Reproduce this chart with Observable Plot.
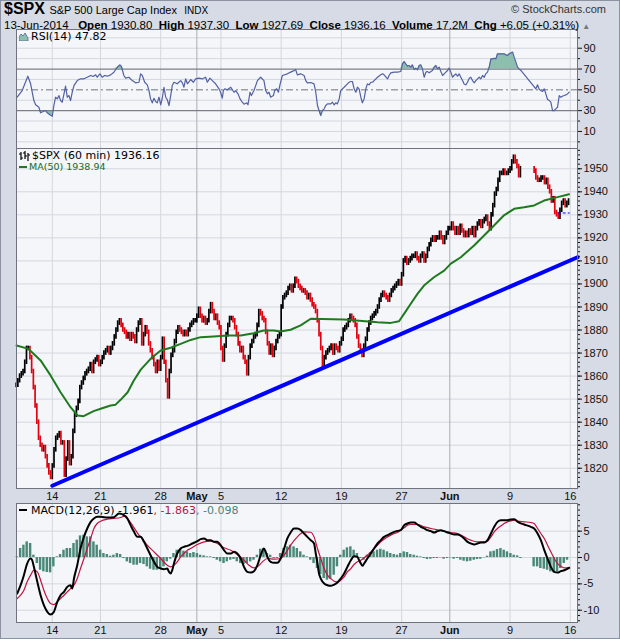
<!DOCTYPE html>
<html><head><meta charset="utf-8">
<script src="https://cdn.jsdelivr.net/npm/d3@7"></script>
<script src="https://cdn.jsdelivr.net/npm/@observablehq/plot@0.6"></script>
<style>
html,body{margin:0;padding:0;background:#fff;}
#wrap{position:relative;width:620px;height:639px;background:#d6dbe5;box-shadow:inset 0 0 0 1px #8b92a2;overflow:hidden;font-family:"Liberation Sans",Arial,sans-serif;color:#000;}
.abs{position:absolute;white-space:nowrap;}
.lg{font-family:"DejaVu Sans",Verdana,sans-serif;font-size:11px;line-height:11px;}
#rsi,#price,#macd{position:absolute;left:0;}
</style></head><body>
<div id="wrap">
  <div id="rsi" style="top:29px"></div>
  <div id="price" style="top:148px"></div>
  <div id="macd" style="top:503px"></div>

  <div class="abs" style="left:4px;top:0px;line-height:17px;height:17px;">
    <span style="font-weight:bold;font-size:16px;">$SPX</span>
    <span style="font-size:11px;">S&amp;P 500 Large Cap Index</span>
    <span style="font-size:10px;">&nbsp;INDX</span>
  </div>
  <div class="abs" style="right:14px;top:3px;font-size:11px;line-height:12px;color:#333;">© StockCharts.com</div>
  <div class="abs" style="left:4px;top:18.5px;font-size:11.5px;line-height:12px;">
    13-Jun-2014&nbsp;&nbsp; <b>Open</b> 1930.80&nbsp; <b>High</b> 1937.30&nbsp; <b>Low</b> 1927.69&nbsp; <b>Close</b> 1936.16&nbsp; <b>Volume</b> 17.2M&nbsp; <b>Chg</b> +6.05 (+0.31%) <span style="color:#777;font-size:8px;">▲</span>
  </div>

  <svg class="abs" style="left:19px;top:32px" width="10" height="9"><path d="M0,9 L0,5 L2,2 L4,4 L6,1 L9,6 L9,9 Z" fill="#8dbfae" stroke="#5663a0" stroke-width="0.8"/></svg>
  <div class="abs lg" style="left:31px;top:31px;">RSI(14) 47.82</div>

  <svg class="abs" style="left:19px;top:151px" width="11" height="10"><path d="M2,1V9M0,3H2M2,7H4M6,0V8M4,2H6M6,5H8M9,2V10M9,4H11" stroke="#000" stroke-width="1.2" fill="none"/></svg>
  <div class="abs" style="left:19px;top:166px;width:8px;height:2px;background:#1f7a1f;"></div>
  <div class="abs lg" style="left:32px;top:149.5px;line-height:11.5px;">$SPX (60 min) 1936.16<br><span style="font-size:9.5px;color:#1a6b1a;margin-left:-3px;">MA(50) 1938.94</span></div>

  <div class="abs" style="left:19px;top:509px;width:8px;height:2px;background:#000;"></div>
  <div class="abs lg" style="left:31px;top:505px;">MACD(12,26,9) -1.961<span style="color:#b5173f">, -1.863</span><span style="color:#3d8a78">, -0.098</span></div>
</div>
<script>
// ---------- x axis: trading days (7 hourly bars per day), Apr 9 – Jun 13, 2014 ----------
const barsPerDay = 7;
const tickDay  = [3, 7, 12, 15, 17, 22, 27, 32, 36, 41, 46];
const tickText = ["14","21","28","May","5","12","19","27","Jun","9","16"];
const monthText = ["May","Jun"];

// hourly closes per trading day (Jun 10 missing in source)
const hourlyClose = [
 [1856,1858,1860,1861,1862,1866,1872], // Apr 9
 [1872,1868,1862,1855,1847,1840,1833], // Apr 10
 [1830,1828,1829,1825,1821,1818,1816], // Apr 11
 [1821,1828,1833,1834,1835,1831,1831], // Apr 14
 [1817,1824,1831,1822,1825,1836,1843], // Apr 15
 [1846,1849,1855,1857,1859,1861,1862], // Apr 16
 [1863,1865,1862,1866,1867,1868,1865], // Apr 17
 [1866,1868,1870,1871,1872,1870,1872], // Apr 21
 [1874,1877,1880,1883,1884,1882,1880], // Apr 22
 [1879,1877,1878,1876,1878,1877,1875], // Apr 23
 [1880,1883,1884,1874,1878,1881,1879], // Apr 24
 [1874,1871,1868,1865,1862,1866,1863], // Apr 25
 [1868,1876,1866,1858,1851,1862,1869], // Apr 28
 [1871,1875,1879,1881,1880,1879,1878], // Apr 29
 [1879,1878,1880,1882,1883,1884,1884], // Apr 30
 [1886,1889,1886,1884,1885,1883,1884], // May 1
 [1888,1891,1888,1885,1886,1883,1881], // May 2
 [1872,1867,1873,1878,1882,1885,1885], // May 5
 [1884,1881,1878,1874,1871,1872,1868], // May 6
 [1866,1861,1868,1873,1875,1877,1878], // May 7
 [1882,1888,1887,1885,1884,1879,1874], // May 8
 [1870,1873,1869,1872,1875,1877,1878], // May 9
 [1890,1894,1895,1896,1898,1899,1897], // May 12
 [1899,1902,1901,1899,1898,1897,1897], // May 13
 [1896,1894,1895,1893,1891,1890,1888], // May 14
 [1884,1878,1872,1864,1868,1870,1871], // May 15
 [1872,1873,1870,1873,1872,1871,1874], // May 16
 [1876,1880,1881,1882,1884,1886,1885], // May 19
 [1884,1882,1877,1873,1871,1869,1873], // May 20
 [1876,1880,1883,1885,1886,1887,1888], // May 21
 [1890,1893,1895,1896,1895,1894,1893], // May 22
 [1895,1897,1898,1899,1900,1901,1900], // May 23
 [1904,1910,1911,1909,1910,1911,1912], // May 27
 [1912,1913,1911,1910,1912,1913,1910], // May 28
 [1912,1915,1917,1919,1920,1919,1920], // May 29
 [1920,1922,1920,1918,1920,1922,1924], // May 30
 [1924,1926,1924,1922,1924,1922,1925], // Jun 2
 [1923,1921,1922,1921,1923,1922,1924], // Jun 3
 [1921,1924,1926,1927,1925,1927,1928], // Jun 4
 [1929,1926,1924,1930,1934,1939,1941], // Jun 5
 [1945,1948,1948,1949,1948,1948,1949], // Jun 6
 [1950,1953,1955,1953,1951,1947,1950], // Jun 9
 null,                                 // Jun 10 (no data)
 [1949,1946,1945,1945,1946,1946,1944], // Jun 11
 [1945,1942,1940,1936,1937,1931,1930], // Jun 12
 [1929,1932,1935,1936,1934,1935,1936]  // Jun 13
];

// MA(50) readings [bar, value]
const ma50 = [[0.2,1873.3],[7.2,1871.8],[14.2,1866.8],[20.0,1860.3],[25.8,1853.0],[31.6,1846.5],[35.7,1842.9],[39.2,1842.6],[45.0,1844.8],[49.1,1845.8],[54.9,1847.2],[57.8,1847.6],[60.7,1849.7],[64.8,1853.0],[68.3,1858.0],[72.3,1862.7],[78.1,1867.5],[84.0,1871.1],[89.8,1872.3],[95.6,1874.0],[101.4,1875.7],[107.2,1876.9],[114.8,1877.2],[122.9,1877.6],[130.5,1877.6],[138.0,1878.6],[143.8,1879.8],[149.7,1879.8],[153.7,1879.4],[159.5,1880.1],[165.3,1882.0],[171.2,1884.9],[190.5,1884.6],[209.9,1883.4],[217.7,1883.1],[222.5,1883.8],[225.4,1887.0],[229.3,1891.4],[233.2,1895.7],[237.0,1899.3],[242.8,1902.9],[248.7,1905.8],[252.6,1908.8],[258.4,1911.6],[266.1,1916.7],[271.9,1921.0],[277.7,1925.4],[283.5,1929.8],[289.4,1932.6],[295.2,1933.3],[301.0,1934.1],[306.8,1936.2],[314.6,1937.7],[321.3,1938.94]];

// trendline [bar, price]
const trend = [[21,1812.4],[326.2,1911.6]];
// today's open marker
const openLevel = 1930.8, openFromBar = 315, openToBar = 322;

// RSI(14) readings [bar, value]
const rsi = [[0.6,42.9],[3.5,49.3],[6.8,63.1],[8.4,55.8],[10.3,39.7],[11.3,35.6],[13.2,33.3],[14.2,27.9],[15.7,29.1],[17.1,30.1],[18.1,27.9],[19.6,26.0],[21.0,24.6],[21.9,34.9],[22.9,42.9],[23.9,41.3],[24.9,44.5],[25.8,39.7],[26.8,38.1],[27.8,46.2],[28.7,53.5],[29.7,42.9],[30.7,44.5],[31.6,39.7],[32.6,47.7],[33.6,54.1],[35.5,58.9],[37.4,60.6],[39.4,60.6],[41.3,62.1],[43.3,63.8],[44.8,62.8],[46.2,64.4],[47.1,62.1],[48.7,65.4],[50.0,62.1],[51.4,63.8],[53.0,63.1],[54.9,64.4],[56.8,66.9],[58.8,71.7],[60.3,74.0],[61.1,72.7],[62.6,63.8],[63.6,61.2],[65.5,62.1],[67.5,58.9],[69.4,56.7],[71.4,57.3],[72.3,65.4],[73.3,63.8],[74.7,57.3],
[76.2,54.8],[77.2,49.3],[78.1,41.3],[79.1,37.5],[80.1,41.9],[81.1,38.8],[82.0,37.5],[83.0,42.9],[84.0,35.6],[84.9,41.9],[85.9,52.5],[86.9,42.9],[87.8,40.7],[88.8,34.9],[89.8,44.5],[90.7,54.1],[91.7,57.3],[93.6,55.8],[95.6,58.9],[96.6,56.7],[97.5,52.5],[98.5,60.6],[99.5,55.8],[101.4,59.9],[103.0,57.3],[104.3,60.6],[106.2,61.2],[108.2,60.6],[110.1,62.1],[111.1,57.3],[112.6,61.2],[114.0,58.9],[115.9,55.8],[117.9,51.0],[118.8,47.7],[119.8,41.9],[120.4,49.3],[121.2,51.0],[122.7,50.0],[124.7,52.5],[126.6,47.7],[127.6,49.3],[128.9,46.2],[130.1,41.3],[131.4,38.1],[132.4,36.2],[134.0,37.5],[134.7,35.6],[135.9,47.7],[136.7,44.5],[138.2,49.3],[140.2,58.9],[141.1,60.6],[142.1,62.1],[144.0,58.9],[145.0,49.3],[146.0,46.2],[146.9,47.7],[147.9,42.9],[149.5,44.5],[150.2,49.3],[151.4,51.0],[152.4,47.7],[153.3,54.8],[154.7,63.8],[157.6,65.4],[159.5,67.0],[161.5,68.5],[162.4,69.5],[163.4,64.4],[165.4,65.4],[167.3,63.8],[168.3,58.9],[169.2,56.7],[171.2,57.0],
[173.1,55.7],[174.1,47.7],[175.1,34.9],[176.0,30.1],[177.0,25.3],[178.0,30.1],[179.0,31.7],[179.9,34.9],[180.9,36.5],[182.8,36.5],[183.8,38.1],[184.8,35.5],[185.7,37.5],[186.7,36.5],[187.7,41.3],[188.6,49.3],[189.6,50.9],[190.6,52.5],[192.5,55.7],[193.5,57.3],[194.5,58.0],[195.4,58.0],[196.4,50.9],[197.4,47.7],[198.3,52.5],[199.3,50.9],[200.3,42.9],[201.2,37.5],[202.2,41.3],[203.2,50.9],[204.1,55.7],[205.1,54.8],[206.1,57.3],[207.1,57.3],[208.0,58.9],[210.0,62.1],[211.9,64.4],[212.9,65.4],[213.8,64.4],[215.8,60.5],[216.7,63.8],[217.7,66.3],[219.7,67.0],[221.6,67.0],[223.5,67.6],[224.5,75.0],[225.5,77.2],[226.4,75.0],[227.4,72.7],[228.4,73.4],[229.3,71.8],[230.3,74.0],[231.3,69.5],[232.2,70.8],[233.2,69.2],[234.2,73.4],[235.2,74.0],[236.1,70.2],[237.1,62.1],[238.1,67.0],[239.0,67.6],[240.0,66.3],[241.0,67.6],[241.9,68.6],[242.9,71.8],[243.9,73.4],[244.8,70.2],[245.8,71.8],[246.8,67.6],[247.8,63.8],[248.7,65.4],[249.7,67.0],[250.7,68.6],[251.6,70.8],[252.6,67.0],[253.6,62.1],[254.5,63.8],[255.5,65.4],[256.5,63.1],[257.4,65.4],[258.4,62.1],[259.4,58.9],[260.3,55.7],[261.3,54.8],[262.3,57.3],[263.3,61.2],[264.2,62.1],[265.2,58.9],[266.2,56.7],[267.1,58.9],[268.1,60.5],[269.1,62.1],[270.0,60.5],[271.0,63.8],[272.0,62.1],[272.9,65.4],[273.9,67.0],[274.9,71.8],[275.9,79.8],[276.8,79.8],[277.8,80.4],[278.8,79.8],[279.7,84.6],[281.7,84.6],[283.6,84.6],[284.6,83.6],[285.5,83.0],[286.5,84.6],[287.5,85.5],[288.5,86.2],[289.4,81.4],[290.4,76.6],[291.4,71.8],[292.3,70.2],[293.3,68.6],[302.0,51.0],[303.0,54.8],[304.0,50.3],[304.9,49.3],[305.9,48.4],[306.9,50.9],[307.8,46.1],[308.8,40.7],[309.8,39.7],[310.7,38.1],[311.7,30.1],[312.7,30.1],[313.6,31.7],[314.6,33.3],[315.6,44.5],[316.5,42.9],[317.5,43.9],[318.5,44.5],[319.5,45.2],[320.4,46.1],[321.4,47.82]];

// MACD(12,26,9) readings [bar, value]
const macd = [[0.6,-6.84],[2.6,-5.25],[4.5,-3.35],[6.4,-1.14],[8.4,-0.19],[9.3,-0.51],[10.3,-1.77],[12.3,-4.62],[14.2,-7.15],[16.1,-9.05],[18.1,-10.32],[20.0,-10.82],[21.9,-10.32],[23.9,-8.42],[25.8,-7.15],[27.8,-6.52],[29.7,-5.57],[31.6,-5.25],[32.6,-5.89],[33.6,-3.99],[35.5,-1.46],[37.4,1.71],[39.4,3.92],[41.3,5.51],[43.3,6.77],[45.2,7.41],[47.1,7.72],[49.1,7.72],[53.0,7.59],[56.8,7.66],[59.7,8.35],[62.6,8.04],[64.6,7.41],[66.5,6.14],[68.5,4.87],[70.4,3.92],[72.3,3.92],[74.3,2.97],[76.2,1.71],[78.1,0.44],[80.1,-0.82],[82.0,-1.77],[84.0,-2.09],[85.9,-2.22],[87.8,-2.09],[88.8,-2.72],[89.8,-3.04],[90.7,-2.41],[91.7,-1.14],[93.6,0.76],[95.6,1.71],[97.5,2.03],[99.5,2.22],[102.4,2.66],[105.3,3.1],[107.2,3.48],[109.2,3.61],[111.1,3.29],[113.0,3.29],[115.0,2.97],[116.9,2.97],[118.8,2.34],[120.8,1.39],[122.7,0.76],[124.7,0.76],[126.6,1.08],[128.5,0.76],[130.5,-0.19],[132.4,-1.77],[134.3,-2.72],[136.3,-2.85],[138.2,-2.59],[140.2,-1.46],[142.1,0.44],[144.0,1.71],[145.0,1.08],[146.0,0.13],[147.9,-0.82],[149.9,-1.01],[151.8,-1.01],[153.7,-0.19],[155.7,1.71],[157.6,3.61],[159.5,4.75],[161.5,5.51],[163.4,5.51],[165.4,5.19],[167.3,4.56],[169.2,3.92],[171.2,3.29],[173.1,2.66],[174.1,0.76],[175.1,-1.14],[176.0,-3.04],[177.0,-3.99],[179.0,-4.94],[180.9,-5.25],[182.8,-5.38],[184.8,-5.13],[186.7,-4.75],[188.6,-3.99],[190.6,-3.04],[192.5,-1.77],[194.5,-0.51],[196.4,0.25],[198.3,0.13],[199.3,-0.51],[200.3,-1.14],[201.2,-1.58],[202.2,-1.14],[204.1,-0.19],[206.1,0.76],[208.0,1.71],[210.0,2.66],[211.9,3.29],[213.8,3.92],[215.8,4.24],[217.7,4.56],[219.7,4.87],[221.6,5.06],[223.5,5.19],[225.5,6.14],[227.4,6.46],[229.3,6.65],[231.3,6.65],[233.2,6.27],[235.2,5.82],[237.1,5.51],[239.0,5.19],[241.0,5.0],[242.9,4.75],[244.8,5.0],[246.8,5.19],[248.7,5.0],[250.7,4.75],[252.6,4.56],[254.5,4.37],[256.5,4.37],[258.4,4.11],[260.3,3.61],[262.3,2.97],[264.2,2.66],[266.2,2.47],[268.1,2.66],[270.0,2.85],[272.0,2.85],[273.9,3.29],[275.9,4.56],[277.8,5.82],[279.7,6.77],[281.7,7.09],[283.6,7.09],[285.5,7.09],[287.5,7.22],[289.4,7.28],[290.4,7.09],[291.4,6.77],[295.2,6.27],[299.1,5.82],[301.0,5.51],[303.0,4.56],[304.9,3.29],[306.9,1.39],[308.8,-0.19],[310.7,-1.77],[312.7,-2.72],[314.6,-2.85],[316.5,-2.59],[318.5,-2.41],[321.4,-1.961]];

const signal = [[0.6,-7.78],[2.6,-7.15],[4.5,-6.2],[6.4,-4.62],[8.4,-3.35],[10.3,-2.41],[12.3,-2.72],[14.2,-4.3],[16.1,-6.2],[18.1,-7.78],[20.0,-8.73],[21.9,-8.92],[23.9,-8.42],[25.8,-7.78],[27.8,-7.15],[29.7,-6.52],[31.6,-5.89],[33.6,-5.25],[35.5,-3.99],[37.4,-2.09],[39.4,-0.19],[41.3,1.71],[43.3,3.61],[45.2,5.51],[47.1,6.46],[49.1,6.9],[53.0,7.28],[56.8,7.41],[60.7,7.59],[63.6,7.91],[65.5,7.09],[67.5,6.14],[69.4,5.19],[71.4,4.24],[73.3,3.61],[76.2,2.34],[80.1,1.08],[84.0,-0.19],[87.8,-1.46],[89.8,-1.77],[91.7,-1.46],[93.6,-0.82],[95.6,0.13],[97.5,0.76],[99.5,1.39],[101.4,1.71],[105.3,2.47],[109.2,2.97],[113.0,3.1],[116.9,2.66],[120.8,1.84],[124.7,1.39],[128.5,0.57],[132.4,-0.51],[135.3,-1.46],[138.2,-1.96],[140.2,-1.77],[143.1,-0.82],[146.0,-0.19],[149.9,-0.32],[153.7,-0.19],[155.7,0.44],[159.5,2.34],[163.4,3.92],[167.3,4.87],[171.2,4.8],[173.1,3.92],[175.1,1.71],[177.0,-0.19],[179.0,-2.09],[180.9,-3.35],[182.8,-3.99],[184.8,-4.49],[186.7,-4.62],[188.6,-4.3],[190.6,-3.67],[192.5,-2.72],[194.5,-2.09],[196.4,-1.33],[198.3,-0.82],[200.3,-0.51],[202.2,-0.06],[204.1,0.44],[206.1,1.08],[208.0,1.71],[210.0,2.34],[211.9,2.97],[213.8,3.48],[215.8,3.92],[217.7,4.24],[219.7,4.56],[221.6,4.75],[223.5,5.19],[225.5,5.63],[227.4,6.14],[229.3,6.27],[233.2,6.27],[237.1,5.82],[241.0,5.51],[244.8,5.25],[248.7,5.0],[252.6,4.75],[256.5,4.56],[260.3,3.92],[264.2,3.29],[268.1,2.97],[272.0,2.97],[273.9,3.1],[275.9,3.92],[277.8,4.87],[279.7,5.51],[281.7,6.01],[283.6,6.46],[285.5,6.77],[287.5,6.96],[289.4,7.09],[291.4,6.9],[295.2,6.77],[299.1,6.65],[301.0,6.46],[303.0,5.51],[304.9,4.56],[306.9,3.61],[308.8,2.34],[310.7,1.08],[312.7,-0.19],[314.6,-1.14],[316.5,-1.65],[318.5,-1.96],[321.4,-1.863]];

const hist = [[0.6,0.13],[2.6,1.71],[4.5,2.34],[6.4,2.97],[8.4,2.66],[10.3,0.44],[12.3,-1.14],[14.2,-2.41],[16.1,-2.72],[18.1,-2.85],[20.0,-2.91],[21.9,-1.77],[23.9,0.13],[25.8,0.57],[27.8,1.39],[29.7,1.71],[31.6,1.71],[33.6,2.66],[35.5,3.29],[37.4,4.11],[39.4,4.24],[41.3,3.92],[43.3,3.92],[45.2,2.97],[47.1,2.34],[49.1,1.39],[51.0,0.76],[53.0,0.57],[54.9,0.25],[56.8,0.44],[58.8,0.76],[60.7,0.57],[62.6,-0.19],[64.6,-0.82],[66.5,-1.14],[68.5,-1.46],[70.4,-1.46],[72.3,-1.14],[74.3,-1.33],[76.2,-1.77],[78.1,-2.22],[80.1,-2.41],[82.0,-2.41],[84.0,-2.09],[85.9,-1.77],[87.8,-0.82],[89.8,-0.32],[91.7,0.76],[93.6,1.39],[95.6,1.58],[97.5,1.2],[99.5,1.08],[101.4,0.76],[103.3,0.95],[105.3,0.76],[107.2,0.44],[109.2,0.32],[111.1,0.13],[113.0,0.13],[115.0,-0.19],[116.9,-0.51],[118.8,-0.82],[120.8,-1.14],[122.7,-0.82],[124.7,-0.51],[126.6,-0.38],[128.5,-0.82],[130.5,-1.14],[132.4,-1.33],[134.3,-1.14],[136.3,-0.82],[138.2,-0.51],[140.2,0.44],[142.1,1.58],[144.0,1.71],[146.0,0.76],[147.9,0.44],[149.9,-0.19],[151.8,-0.19],[153.7,0.76],[155.7,1.71],[157.6,2.03],[159.5,2.34],[161.5,2.03],[163.4,1.71],[165.4,1.08],[167.3,0.44],[169.2,0.13],[171.2,-0.51],[173.1,-1.14],[175.1,-2.09],[177.0,-3.23],[179.0,-3.99],[180.9,-4.3],[182.8,-4.11],[184.8,-3.35],[186.7,-1.77],[188.6,0.44],[190.6,1.39],[192.5,1.84],[194.5,2.03],[196.4,1.39],[198.3,0.76],[200.3,-0.19],[202.2,-0.51],[204.1,0.44],[206.1,0.95],[208.0,1.08],[210.0,1.39],[211.9,1.58],[213.8,1.39],[215.8,1.08],[217.7,0.76],[219.7,0.57],[221.6,0.44],[223.5,0.76],[225.5,1.08],[227.4,0.95],[229.3,0.57],[231.3,0.44],[233.2,0.25],[235.2,0.13],[237.1,-0.19],[239.0,-0.38],[241.0,-0.32],[242.9,-0.19],[244.8,-0.19],[246.8,-0.06],[248.7,-0.32],[250.7,-0.19],[252.6,-0.06],[254.5,-0.32],[256.5,-0.19],[258.4,-0.51],[260.3,-0.7],[262.3,-0.82],[264.2,-0.7],[266.2,-0.51],[268.1,-0.38],[270.0,-0.32],[272.0,-0.06],[273.9,0.25],[275.9,1.08],[277.8,1.2],[279.7,1.52],[281.7,1.71],[283.6,1.39],[285.5,1.08],[287.5,0.76],[289.4,0.44],[291.4,0.32],[293.3,-0.19],[301.0,-1.77],[303.0,-1.77],[304.9,-2.09],[306.9,-2.22],[308.8,-2.41],[310.7,-2.72],[312.7,-2.91],[314.6,-2.72],[316.5,-2.09],[318.5,-1.14],[320.4,-0.51]];

// axis levels
const priceLevels = [1820,1830,1840,1850,1860,1870,1880,1890,1900,1910,1920,1930,1940,1950];
const rsiLabels = [10,30,50,70,90];
const rsiGrid = [0,10,20,40,60,80,90,100];
const macdLevels = [5,0,-5,-10];

// ---------- styling ----------
const W = 620, mL = 16, mR = 43;
const xDomain = [0.2, 326.2];
const panelFill = "#f4f6fa", gridColor = "#d3d7de", monthGrid = "#a8adb6", border = "#6e737d";
const axisStyle = {background:"transparent", fontFamily:"'Liberation Sans', Arial, sans-serif", fontSize:"10.5px", color:"#111", overflow:"visible"};

const tickH = tickDay.map(d => d * barsPerDay);
const labelAt = new Map(tickH.map((h, i) => [h, tickText[i]]));
const monthTicks = tickH.filter(h => monthText.includes(labelAt.get(h)));
const plainTicks = tickH.filter(h => !monthText.includes(labelAt.get(h)));
const vgrid = () => [
  Plot.ruleX(plainTicks, {stroke: gridColor}),
  Plot.ruleX(monthTicks, {stroke: monthGrid})
];
const dateAxes = () => [
  Plot.axisX({anchor:"bottom", ticks: plainTicks, tickFormat: h => labelAt.get(h), tickSize:0, tickPadding:4, fontSize:11}),
  Plot.axisX({anchor:"bottom", ticks: monthTicks, tickFormat: h => labelAt.get(h), tickSize:0, tickPadding:4, fontSize:11, fontWeight:"bold"})
];

// price bars: each bar spans previous close -> close (hourly range)
const bars = [];
let prev = null;
hourlyClose.forEach((day, d) => {
  if (!day) return;
  day.forEach((c, j) => {
    const p = prev == null ? c : prev;
    bars.push({h: d * barsPerDay + j, lo: Math.min(p, c) - 1.0, hi: Math.max(p, c) + 1.0, up: c >= p});
    prev = c;
  });
});

// ---------- RSI panel ----------
const rsiPlot = Plot.plot({
  width: W, height: 119, marginLeft: mL, marginRight: mR, marginTop: 0, marginBottom: 0,
  x: {domain: xDomain, label: null},
  y: {domain: [-6.4, 108], label: null},
  style: axisStyle,
  marks: [
    Plot.frame({fill: panelFill, stroke: "none"}),
    Plot.ruleY(rsiGrid, {stroke: gridColor}),
    ...vgrid(),
    Plot.area(rsi, {x1: d => d[0], y1: () => 70, y2: d => Math.max(70, d[1]), fill: "#8dbfae"}),
    Plot.area(rsi, {x1: d => d[0], y1: () => 30, y2: d => Math.min(30, d[1]), fill: "#8dbfae"}),
    Plot.ruleY([70, 30], {stroke: "#7b7f88", strokeWidth: 1.2}),
    Plot.ruleY([50], {stroke: "#6f737c", strokeDasharray: "7,3,2,3"}),
    Plot.line(rsi, {x: d => d[0], y: d => d[1], stroke: "#5361a2", strokeWidth: 1.2}),
    Plot.frame({stroke: border}),
    Plot.axisY({anchor: "right", ticks: rsiLabels, tickSize: 4, tickPadding: 2, tickFormat: d => String(d), fontSize: 11}),
    Plot.axisY({anchor: "right", ticks: [0,20,40,60,80,100], tickSize: 2, tickFormat: () => ""})
  ]
});

// ---------- price panel ----------
const pricePlot = Plot.plot({
  width: W, height: 356, marginLeft: mL, marginRight: mR, marginTop: 0, marginBottom: 16,
  x: {domain: xDomain, label: null},
  y: {domain: [1811.2, 1958.8], label: null},
  style: axisStyle,
  marks: [
    Plot.frame({fill: panelFill, stroke: "none"}),
    Plot.ruleY(priceLevels, {stroke: gridColor}),
    ...vgrid(),
    Plot.ruleX(bars.filter(b => b.up), {x: "h", y1: "lo", y2: "hi", stroke: "#000", strokeWidth: 1.7}),
    Plot.ruleX(bars.filter(b => !b.up), {x: "h", y1: "lo", y2: "hi", stroke: "#e3000f", strokeWidth: 1.7}),
    Plot.line(ma50, {x: d => d[0], y: d => d[1], stroke: "#1f7a1f", strokeWidth: 2}),
    Plot.line(trend, {x: d => d[0], y: d => d[1], stroke: "#0000ff", strokeWidth: 4}),
    Plot.ruleY([openLevel], {x1: () => openFromBar, x2: () => openToBar, stroke: "#0000ff", strokeDasharray: "3,2"}),
    Plot.frame({stroke: border}),
    Plot.axisY({anchor: "right", ticks: priceLevels, tickSize: 4, tickPadding: 2, tickFormat: d => String(d), fontSize: 11}),
    Plot.axisY({anchor: "right", ticks: d3.range(1812, 1959, 2), tickSize: 2, tickFormat: () => ""}),
    ...dateAxes()
  ]
});

// ---------- MACD panel ----------
const macdPlot = Plot.plot({
  width: W, height: 135, marginLeft: mL, marginRight: mR, marginTop: 0, marginBottom: 16,
  x: {domain: xDomain, label: null},
  y: {domain: [-12.33, 10.25], label: null},
  style: axisStyle,
  marks: [
    Plot.frame({fill: panelFill, stroke: "none"}),
    Plot.ruleY(macdLevels, {stroke: gridColor}),
    ...vgrid(),
    Plot.rect(hist, {x1: d => d[0] - 0.97, x2: d => d[0] + 0.97, y1: () => 0, y2: d => d[1], fill: "#4a8878", insetLeft: 0.45, insetRight: 0.45}),
    Plot.line(signal, {x: d => d[0], y: d => d[1], stroke: "#c0143f", strokeWidth: 1.2, curve: "monotone-x"}),
    Plot.line(macd, {x: d => d[0], y: d => d[1], stroke: "#000", strokeWidth: 2, curve: "monotone-x"}),
    Plot.frame({stroke: border}),
    Plot.axisY({anchor: "right", ticks: macdLevels, tickSize: 4, tickPadding: 2, tickFormat: d => String(d), fontSize: 11}),
    Plot.axisY({anchor: "right", ticks: d3.range(-12, 11, 1), tickSize: 2, tickFormat: () => ""}),
    ...dateAxes()
  ]
});

for (const svg of [pricePlot, macdPlot]) {
  d3.select(svg).selectAll("text").filter(function () { return monthText.includes(this.textContent); }).attr("font-weight", "bold");
}
document.getElementById("rsi").appendChild(rsiPlot);
document.getElementById("price").appendChild(pricePlot);
document.getElementById("macd").appendChild(macdPlot);
</script>
</body></html>
